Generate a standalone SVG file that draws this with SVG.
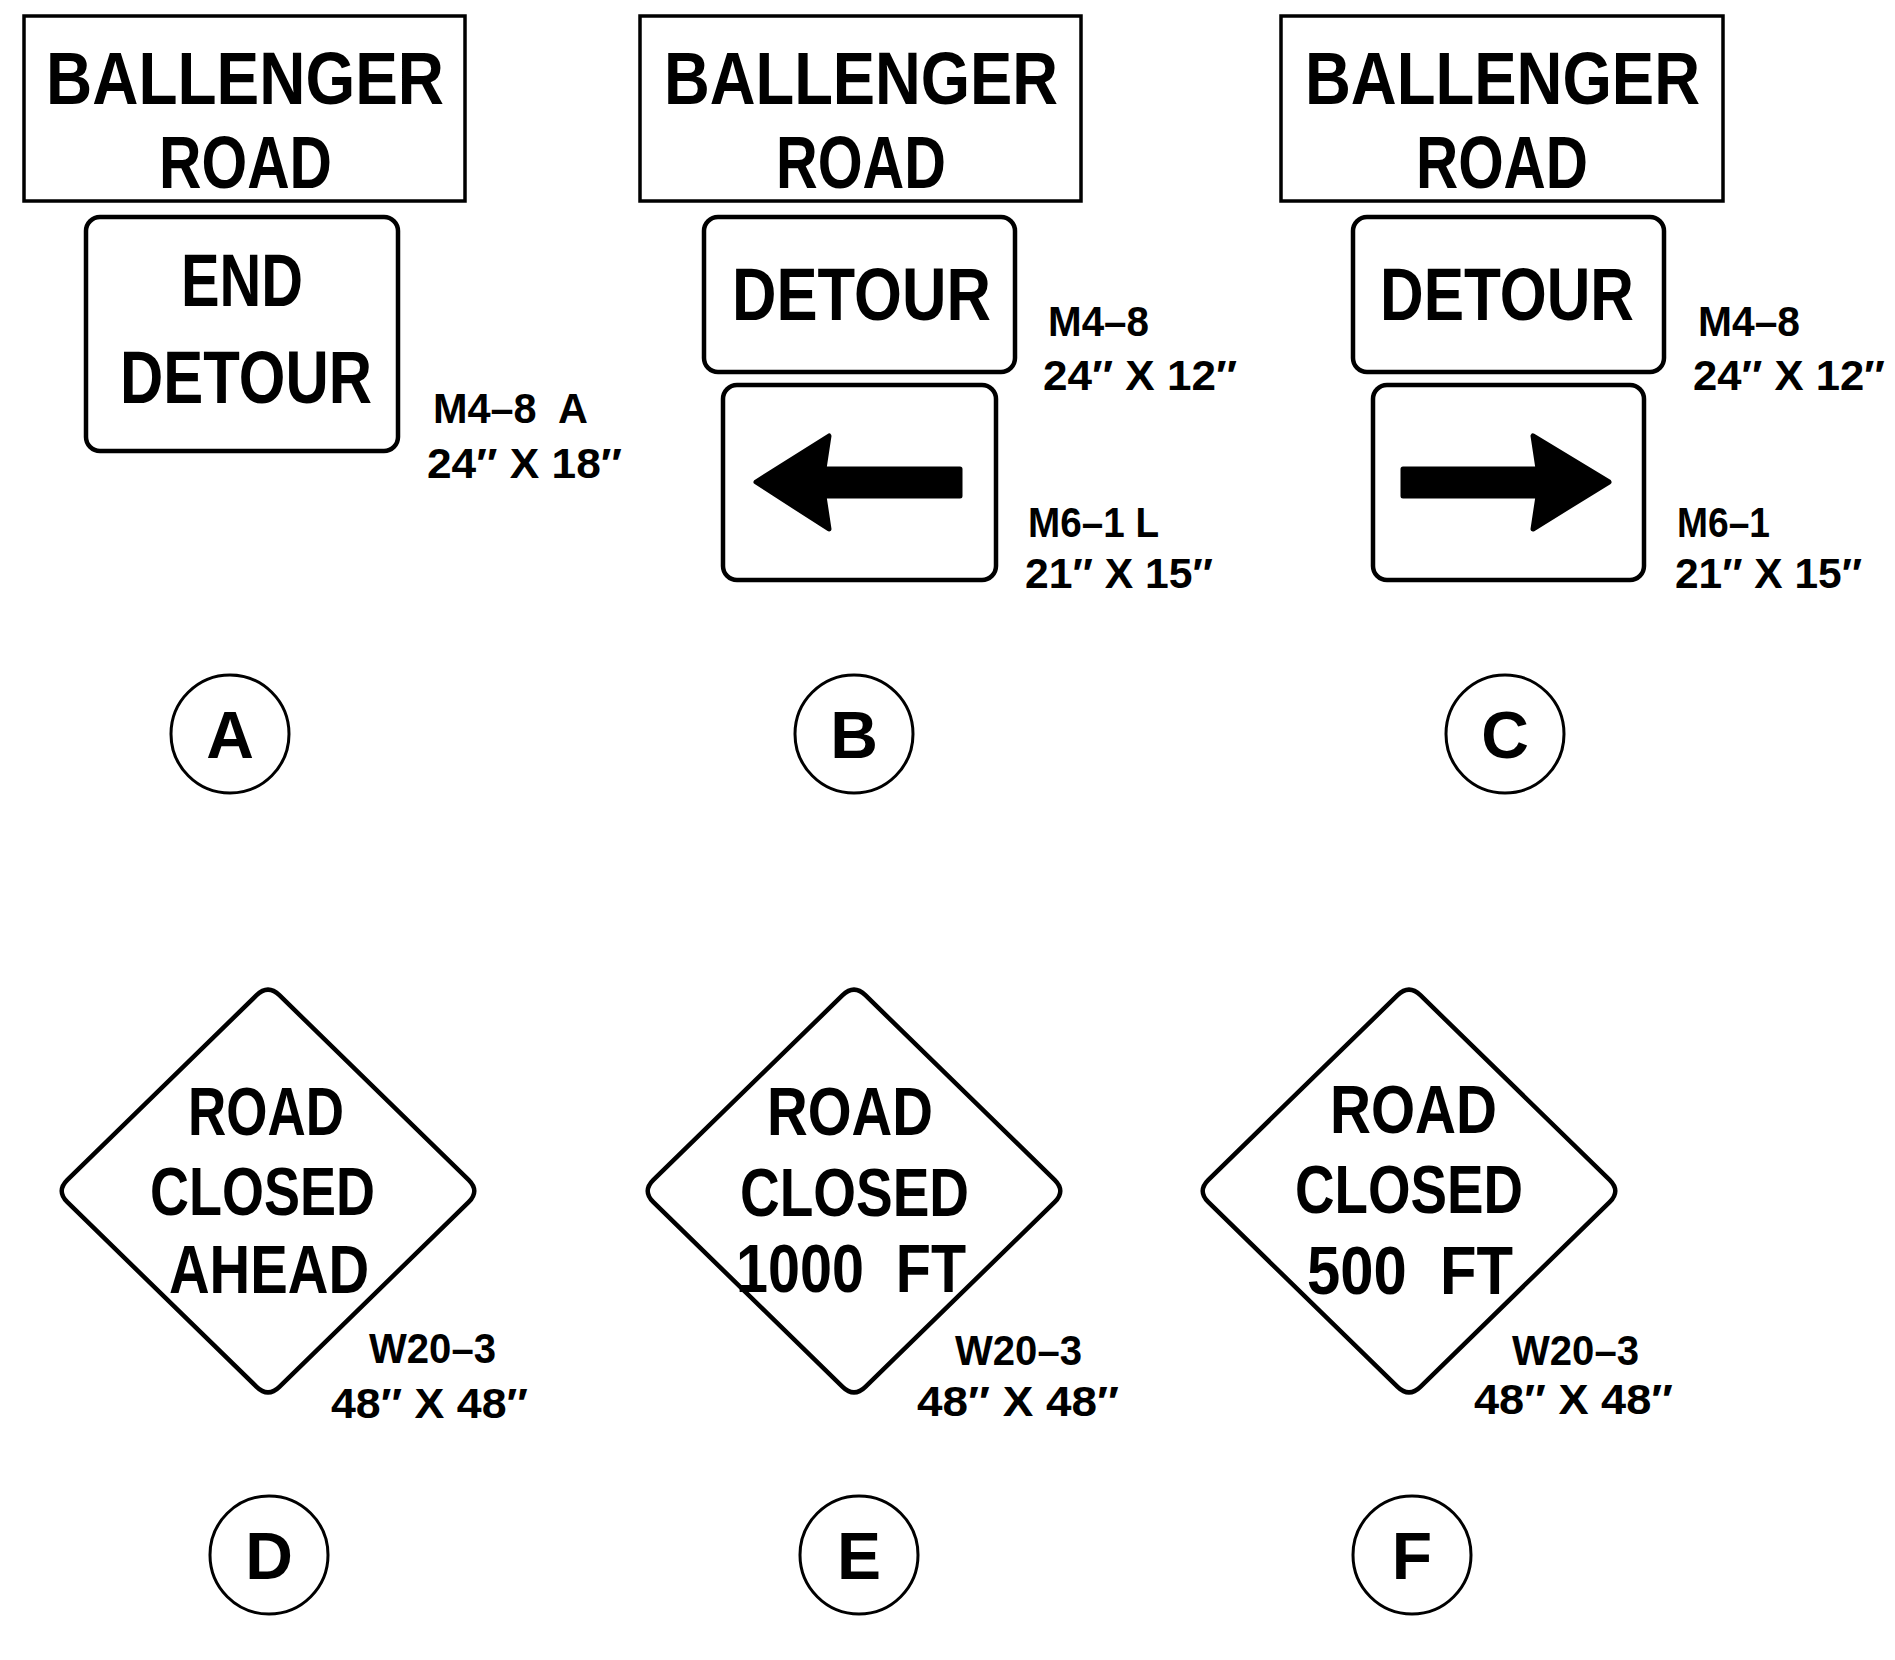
<svg xmlns="http://www.w3.org/2000/svg" xmlns:xlink="http://www.w3.org/1999/xlink" width="1895" height="1660" viewBox="0 0 1895 1660">
<style>
.board{fill:#fff;stroke:#000;stroke-width:3.5}
.panel{fill:#fff;stroke:#000;stroke-width:4.5}
.dia{fill:#fff;stroke:#000;stroke-width:4.5}
.ring{fill:#fff;stroke:#000;stroke-width:3}
.arrow{fill:#000;stroke:#000;stroke-width:5;stroke-linejoin:round}
text{font-family:"Liberation Sans",Arial,sans-serif;font-weight:bold;fill:#000;white-space:pre}
.big{font-size:75px}
.mid{font-size:74px}
.dt{font-size:69px}
.lbl{font-size:42px}
.let{font-size:66px;text-anchor:middle}
</style>
<defs>
<path id="diamond" d="M -11.4,-195.8 Q 0,-207 11.4,-195.8 L 200.6,-11.2 Q 212,0 200.6,11.2 L 11.4,195.8 Q 0,207 -11.4,195.8 L -200.6,11.2 Q -212,0 -200.6,-11.2 Z"/>
</defs>
<rect width="1895" height="1660" fill="#fff"/>
<g id="connectors"/>

<g id="sign-A">
<rect class="board" x="24" y="16" width="441" height="185"/>
<text class="big" x="46" y="104" textLength="398" lengthAdjust="spacingAndGlyphs">BALLENGER</text>
<text class="big" x="159" y="188" textLength="173" lengthAdjust="spacingAndGlyphs">ROAD</text>
<rect class="panel" x="86" y="217" width="312" height="234" rx="14"/>
<text class="mid" x="181" y="306" textLength="122" lengthAdjust="spacingAndGlyphs">END</text>
<text class="mid" x="120" y="403" textLength="252" lengthAdjust="spacingAndGlyphs">DETOUR</text>
<text class="lbl" x="433" y="423" textLength="155" lengthAdjust="spacingAndGlyphs">M4–8  A</text>
<text class="lbl" x="427" y="478" textLength="195" lengthAdjust="spacingAndGlyphs">24″ X 18″</text>
</g>

<g id="sign-B">
<rect class="board" x="640" y="16" width="441" height="185"/>
<text class="big" x="664" y="104" textLength="394" lengthAdjust="spacingAndGlyphs">BALLENGER</text>
<text class="big" x="776" y="188" textLength="170" lengthAdjust="spacingAndGlyphs">ROAD</text>
<rect class="panel" x="704" y="217" width="311" height="155" rx="14"/>
<text class="mid" x="732" y="320" textLength="259" lengthAdjust="spacingAndGlyphs">DETOUR</text>
<rect class="panel" x="723" y="385" width="273" height="195" rx="14"/>
<path class="arrow" d="M 756,482 L 829,436 L 824,469 L 960,469 L 960,496 L 824,496 L 829,529 Z"/>
<text class="lbl" x="1048" y="336" textLength="101" lengthAdjust="spacingAndGlyphs">M4–8</text>
<text class="lbl" x="1043" y="390" textLength="194" lengthAdjust="spacingAndGlyphs">24″ X 12″</text>
<text class="lbl" x="1028" y="537" textLength="131" lengthAdjust="spacingAndGlyphs">M6–1 L</text>
<text class="lbl" x="1025" y="588" textLength="188" lengthAdjust="spacingAndGlyphs">21″ X 15″</text>
</g>

<g id="sign-C">
<rect class="board" x="1281" y="16" width="442" height="185"/>
<text class="big" x="1305" y="104" textLength="395" lengthAdjust="spacingAndGlyphs">BALLENGER</text>
<text class="big" x="1416" y="188" textLength="172" lengthAdjust="spacingAndGlyphs">ROAD</text>
<rect class="panel" x="1353" y="217" width="311" height="155" rx="14"/>
<text class="mid" x="1380" y="320" textLength="254" lengthAdjust="spacingAndGlyphs">DETOUR</text>
<rect class="panel" x="1373" y="385" width="271" height="195" rx="14"/>
<path class="arrow" d="M 1609,482 L 1533,436 L 1538,469 L 1403,469 L 1403,496 L 1538,496 L 1533,529 Z"/>
<text class="lbl" x="1698" y="336" textLength="102" lengthAdjust="spacingAndGlyphs">M4–8</text>
<text class="lbl" x="1693" y="390" textLength="192" lengthAdjust="spacingAndGlyphs">24″ X 12″</text>
<text class="lbl" x="1677" y="537" textLength="93" lengthAdjust="spacingAndGlyphs">M6–1</text>
<text class="lbl" x="1675" y="588" textLength="187" lengthAdjust="spacingAndGlyphs">21″ X 15″</text>
</g>

<g id="label-A"><circle class="ring" cx="230" cy="734" r="59"/><text class="let" x="230" y="758">A</text></g>
<g id="label-B"><circle class="ring" cx="854" cy="734" r="59"/><text class="let" x="854" y="758">B</text></g>
<g id="label-C"><circle class="ring" cx="1505" cy="734" r="59"/><text class="let" x="1505" y="758">C</text></g>

<g id="sign-D">
<use xlink:href="#diamond" class="dia" x="268" y="1191"/>
<text class="dt" x="188" y="1135" textLength="156" lengthAdjust="spacingAndGlyphs">ROAD</text>
<text class="dt" x="150" y="1215" textLength="225" lengthAdjust="spacingAndGlyphs">CLOSED</text>
<text class="dt" x="169" y="1293" textLength="200" lengthAdjust="spacingAndGlyphs">AHEAD</text>
<text class="lbl" x="369" y="1363" textLength="127" lengthAdjust="spacingAndGlyphs">W20–3</text>
<text class="lbl" x="331" y="1418" textLength="197" lengthAdjust="spacingAndGlyphs">48″ X 48″</text>
</g>

<g id="sign-E">
<use xlink:href="#diamond" class="dia" x="854" y="1191"/>
<text class="dt" x="767" y="1135" textLength="166" lengthAdjust="spacingAndGlyphs">ROAD</text>
<text class="dt" x="740" y="1216" textLength="229" lengthAdjust="spacingAndGlyphs">CLOSED</text>
<text class="dt" x="736" y="1292" textLength="230" lengthAdjust="spacingAndGlyphs">1000  FT</text>
<text class="lbl" x="955" y="1365" textLength="127" lengthAdjust="spacingAndGlyphs">W20–3</text>
<text class="lbl" x="917" y="1416" textLength="202" lengthAdjust="spacingAndGlyphs">48″ X 48″</text>
</g>

<g id="sign-F">
<use xlink:href="#diamond" class="dia" x="1409" y="1191"/>
<text class="dt" x="1330" y="1133" textLength="167" lengthAdjust="spacingAndGlyphs">ROAD</text>
<text class="dt" x="1295" y="1213" textLength="228" lengthAdjust="spacingAndGlyphs">CLOSED</text>
<text class="dt" x="1307" y="1294" textLength="206" lengthAdjust="spacingAndGlyphs">500  FT</text>
<text class="lbl" x="1512" y="1365" textLength="127" lengthAdjust="spacingAndGlyphs">W20–3</text>
<text class="lbl" x="1474" y="1414" textLength="199" lengthAdjust="spacingAndGlyphs">48″ X 48″</text>
</g>

<g id="label-D"><circle class="ring" cx="269" cy="1555" r="59"/><text class="let" x="269" y="1579">D</text></g>
<g id="label-E"><circle class="ring" cx="859" cy="1555" r="59"/><text class="let" x="859" y="1579">E</text></g>
<g id="label-F"><circle class="ring" cx="1412" cy="1555" r="59"/><text class="let" x="1412" y="1579">F</text></g>
</svg>
